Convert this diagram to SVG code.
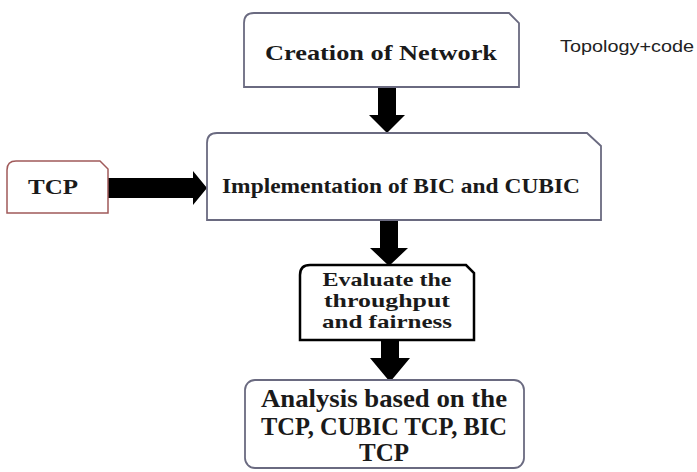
<svg xmlns="http://www.w3.org/2000/svg" width="697" height="472" viewBox="0 0 697 472">
<style>
.box{fill:#fff;stroke:#6a6a80;stroke-width:1.8}
.t{font-family:"Liberation Serif","Times New Roman",serif;font-weight:bold;fill:#1a1a1a;text-anchor:middle}
.arr{fill:#000}
</style>
<rect width="697" height="472" fill="#fff"/>
<g id="connectors">
<path class="arr" d="M378,87 H396 V115 H405 L387,133 L369,115 H378 Z"/>
<path class="arr" d="M108,178 H193 V171 L207,188 L193,205 V198 H108 Z"/>
<path class="arr" d="M380,220 H398 V248 H408 L389,266 L370,248 H380 Z"/>
<path class="arr" d="M381,340 H399 V358 H410 L390,382 L370,358 H381 Z"/>
</g>
<g id="n-creation">
<path class="box" d="M254,13 H509 L519,23 V87 H244 V23 Q244,13 254,13 Z"/>
<text class="t" x="381" y="60" font-size="22" textLength="232" lengthAdjust="spacingAndGlyphs">Creation of Network</text>
</g>
<g id="n-topology">
<text x="560" y="52" font-family="'Liberation Sans',Arial,sans-serif" font-size="17" fill="#222" textLength="134" lengthAdjust="spacingAndGlyphs">Topology+code</text>
</g>
<g id="n-impl">
<path class="box" d="M217,133 H587 L601,146 V220 H207 V143 Q207,133 217,133 Z"/>
<text class="t" x="401" y="193" font-size="21" textLength="358" lengthAdjust="spacingAndGlyphs">Implementation of BIC and CUBIC</text>
</g>
<g id="n-tcp">
<path d="M16,161 H100 L108,169 V213 H7 V170 Q7,161 16,161 Z" fill="#fff" stroke="#a05a5a" stroke-width="1.5"/>
<text class="t" x="53" y="194" font-size="21" textLength="50" lengthAdjust="spacingAndGlyphs">TCP</text>
</g>
<g id="n-eval">
<path d="M310,265 H466 L474,273 V340 H300 V275 Q300,265 310,265 Z" fill="#fff" stroke="#000" stroke-width="2.5"/>
<text class="t" x="387" y="286" font-size="19" textLength="129" lengthAdjust="spacingAndGlyphs">Evaluate the</text>
<text class="t" x="387" y="307" font-size="19" textLength="126" lengthAdjust="spacingAndGlyphs">throughput</text>
<text class="t" x="387" y="328" font-size="19" textLength="130" lengthAdjust="spacingAndGlyphs">and fairness</text>
</g>
<g id="n-analysis">
<rect class="box" x="245" y="380" width="279" height="88" rx="10"/>
<text class="t" x="384" y="407" font-size="25" textLength="246" lengthAdjust="spacingAndGlyphs">Analysis based on the</text>
<text class="t" x="384" y="435" font-size="25" textLength="246" lengthAdjust="spacingAndGlyphs">TCP, CUBIC TCP, BIC</text>
<text class="t" x="384" y="461" font-size="25">TCP</text>
</g>
</svg>
